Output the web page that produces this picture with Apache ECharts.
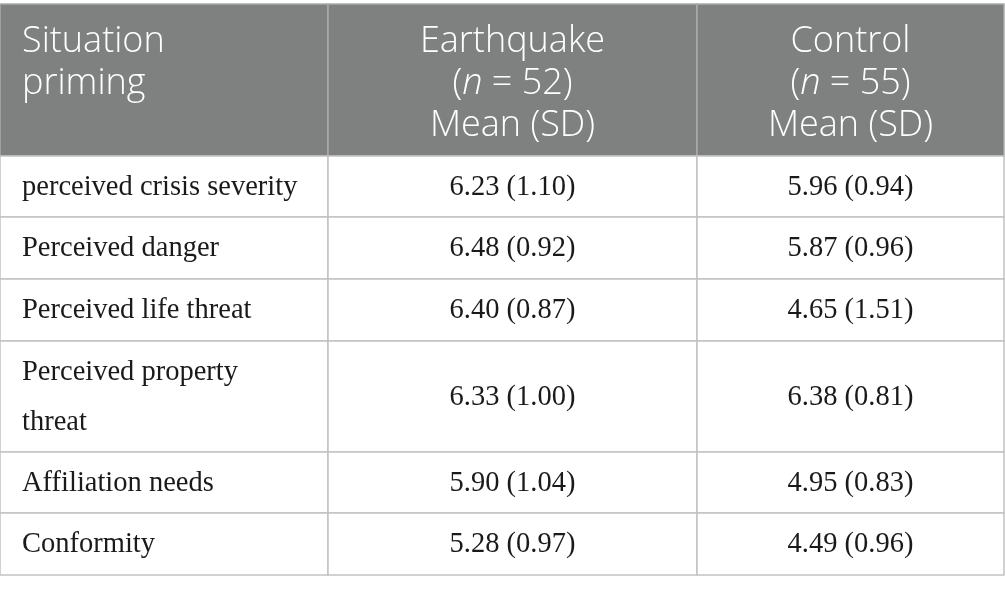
<!DOCTYPE html>
<html>
<head>
<meta charset="utf-8">
<script src="https://cdn.jsdelivr.net/npm/echarts@6/dist/echarts.min.js"></script>
<style>
  html, body { margin: 0; padding: 0; background: #fff; }
  #main { width: 1005px; height: 593px; }
</style>
</head>
<body>
<div id="main"></div>
<script>
// table content
var headerTitle = 'Situation\npriming';
var groupNames = ['Earthquake', 'Control'];
var groupN = [52, 55];
var measures = [
    'perceived crisis severity',
    'Perceived danger',
    'Perceived life threat',
    'Perceived property\nthreat',
    'Affiliation needs',
    'Conformity'
];
var earthquakeMean = [6.23, 6.48, 6.40, 6.33, 5.90, 5.28];
var earthquakeSD = [1.10, 0.92, 0.87, 1.00, 1.04, 0.97];
var controlMean = [5.96, 5.87, 4.65, 6.38, 4.95, 4.49];
var controlSD = [0.94, 0.96, 1.51, 0.81, 0.83, 0.96];

// layout (axis units = pixels)
var colEdges = [0, 328, 697, 1004];
var rowEdges = [4, 156, 217, 279, 341, 452, 513, 575];

var headFill = '#7f8180';
var lineColor = '#c2c2c2';
var sansFont = '"Open Sans", "Noto Sans", sans-serif';
var serifFont = '"Liberation Serif", "DejaVu Serif", serif';

function fmt(m, sd) {
    return m.toFixed(2) + ' (' + sd.toFixed(2) + ')';
}

// cells: [col, row, text]
var cells = [];
cells.push([0, 0, headerTitle]);
groupNames.forEach(function (g, i) {
    cells.push([i + 1, 0, g + '\n{p|(}{i|n}{p| = ' + groupN[i] + ')}\nMean (SD)']);
});
measures.forEach(function (m, r) {
    cells.push([0, r + 1, m]);
    cells.push([1, r + 1, fmt(earthquakeMean[r], earthquakeSD[r])]);
    cells.push([2, r + 1, fmt(controlMean[r], controlSD[r])]);
});

var chart = echarts.init(document.getElementById('main'));

function renderCell(params, api) {
    var c = api.value(0), r = api.value(1);
    var text = cells[params.dataIndex][2];
    var p0 = api.coord([colEdges[c], rowEdges[r]]);
    var p1 = api.coord([colEdges[c + 1], rowEdges[r + 1]]);
    var x = p0[0], y = p0[1], w = p1[0] - p0[0], h = p1[1] - p0[1];
    var head = r === 0;
    var tx = c === 0 ? x + 22 : x + w / 2;
    var textEl;
    if (head) {
        var hs = { fontFamily: sansFont, fontSize: 36, fontWeight: 300, lineHeight: 42, fill: '#ffffff' };
        textEl = {
            type: 'text',
            style: {
                x: tx, y: y + 17,
                text: text,
                align: c === 0 ? 'left' : 'center',
                verticalAlign: 'top',
                fontFamily: hs.fontFamily, fontSize: hs.fontSize, fontWeight: hs.fontWeight,
                lineHeight: hs.lineHeight, fill: hs.fill,
                rich: {
                    p: hs,
                    i: echarts.util.extend({ fontStyle: 'italic' }, hs)
                }
            }
        };
    } else {
        textEl = {
            type: 'text',
            style: {
                x: tx, y: y + h / 2 + 1,
                text: text,
                align: c === 0 ? 'left' : 'center',
                verticalAlign: 'middle',
                fontFamily: serifFont, fontSize: 28.5, lineHeight: 50,
                fill: '#1a1a1a'
            }
        };
    }
    return {
        type: 'group',
        children: [
            {
                type: 'rect',
                shape: { x: x, y: y, width: w, height: h },
                style: {
                    fill: head ? headFill : '#ffffff',
                    stroke: head ? '#a9abaa' : lineColor,
                    lineWidth: 1.5
                }
            },
            textEl
        ]
    };
}

var option = {
    animation: false,
    grid: { left: 0, right: 0, top: 0, bottom: 0 },
    xAxis: { type: 'value', min: 0, max: 1005, show: false },
    yAxis: { type: 'value', min: 0, max: 593, inverse: true, show: false },
    series: [{
        type: 'custom',
        renderItem: renderCell,
        encode: { x: 0, y: 1 },
        data: cells.map(function (d) { return [d[0], d[1]]; }),
        clip: false
    }]
};
chart.setOption(option);
</script>
</body>
</html>
